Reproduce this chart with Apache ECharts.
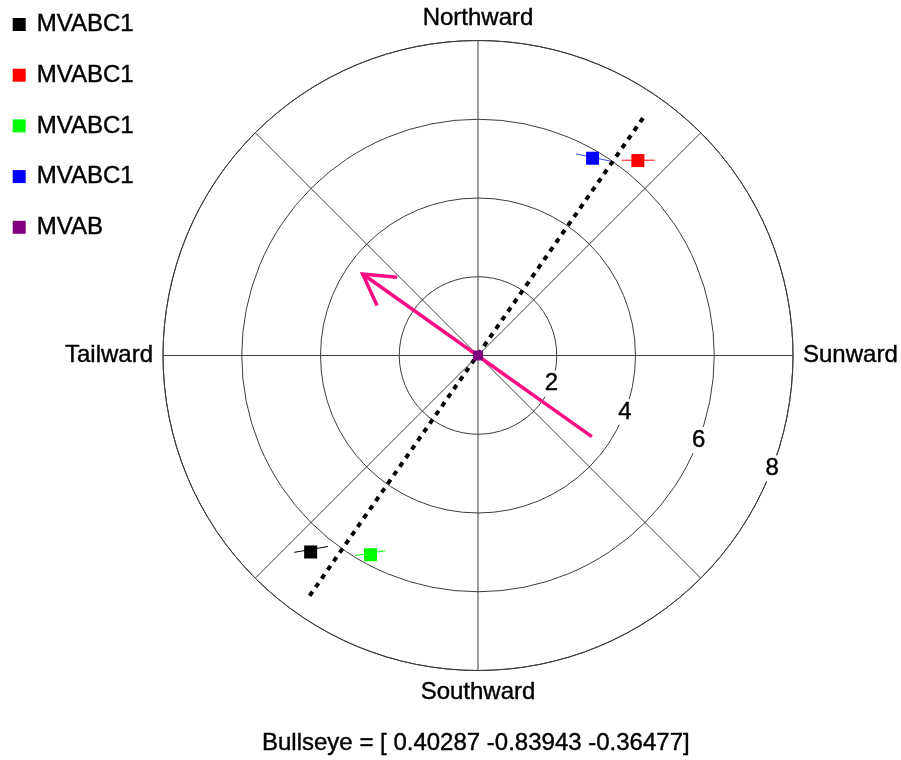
<!DOCTYPE html>
<html>
<head>
<meta charset="utf-8">
<script src="https://cdn.jsdelivr.net/npm/echarts@6/dist/echarts.min.js"></script>
<style>
  html, body { margin: 0; padding: 0; background: #ffffff; }
  #chart { width: 901px; height: 760px; }
</style>
</head>
<body>
<div id="chart"></div>
<script>
// Compass directions around the dial (degrees, counter-clockwise from Sunward)
const directionAngles = [0, 90, 180, 270];
const directionNames = ['Sunward', 'Northward', 'Tailward', 'Southward'];

// Radial rings and the angle at which their values are printed
const ringValues = [2, 4, 6, 8];
const ringLabelAngle = 339;

// Projected normals (x: Sunward, y: Northward)
const seriesNames = ['MVABC1', 'MVABC1', 'MVABC1', 'MVABC1', 'MVAB'];
const seriesColors = ['#000000', '#ff0000', '#00ff00', '#0000ff', '#800080'];
const pointX = [-4.25, 4.06, -2.73, 2.91, 0];
const pointY = [-4.99, 4.95, -5.06, 5.01, 0];

// Uncertainty bars, one segment per MVABC1 point
const errX1 = [-4.67, 3.65, -3.12, 2.49];
const errY1 = [-5.00, 4.96, -5.08, 5.12];
const errX2 = [-3.81, 4.49, -2.36, 3.35];
const errY2 = [-4.85, 4.96, -4.96, 4.94];
const errColors = ['#000000', '#ff0000', '#00ff00', '#3344ff'];

// Dotted boundary trace through the origin
const traceX = [4.19, -4.31];
const traceY = [6.03, -6.15];

// Arrow: tail then tip
const arrowX = [2.89, -2.93];
const arrowY = [-2.06, 2.07];

const titleText = 'Bullseye = [ 0.40287 -0.83943 -0.36477]';

const FONT = '"Liberation Sans", Arial, Helvetica, sans-serif';
const FONT_SIZE = 24;
const ARROW_COLOR = '#ff0a82';
const GRID_COLOR = '#3c3c3c';
// slight stroke around glyphs for a heavier text weight
const INK = { textBorderColor: '#000000', textBorderWidth: 0.4 };

function toPolar(x, y) {
  const r = Math.hypot(x, y);
  const a = (Math.atan2(y, x) * 180 / Math.PI + 360) % 360;
  return [r, a];
}

// Open arrow head: two strokes at +/-30 degrees from the shaft
function arrowHead(x0, y0, x1, y1, len, spreadDeg) {
  const back = Math.atan2(y0 - y1, x0 - x1);
  const s = spreadDeg * Math.PI / 180;
  return [
    toPolar(x1 + len * Math.cos(back + s), y1 + len * Math.sin(back + s)),
    toPolar(x1, y1),
    toPolar(x1 + len * Math.cos(back - s), y1 + len * Math.sin(back - s))
  ];
}

const series = [];

// Ring value labels (white box breaks the circle behind the number)
series.push({
  type: 'scatter',
  coordinateSystem: 'polar',
  symbolSize: 0,
  silent: true,
  z: 3,
  itemStyle: { opacity: 1 },
  data: ringValues.map(v => [v, ringLabelAngle]),
  label: Object.assign({
    show: true,
    position: 'inside',
    formatter: p => String(p.value[0]),
    color: '#000000',
    opacity: 1,
    fontFamily: FONT,
    fontSize: FONT_SIZE,
    backgroundColor: '#ffffff',
    padding: [1, 4]
  }, INK)
});

// Dotted trace
series.push({
  type: 'line',
  coordinateSystem: 'polar',
  symbol: 'none',
  silent: true,
  z: 4,
  data: traceX.map((x, i) => toPolar(x, traceY[i])),
  lineStyle: { color: '#000000', width: 4, type: [5, 5.5], cap: 'butt' }
});

// Arrow shaft and head
series.push({
  type: 'line',
  coordinateSystem: 'polar',
  symbol: 'none',
  silent: true,
  z: 5,
  data: arrowX.map((x, i) => toPolar(x, arrowY[i])),
  lineStyle: { color: ARROW_COLOR, width: 3.5 }
});
series.push({
  type: 'line',
  coordinateSystem: 'polar',
  symbol: 'none',
  silent: true,
  z: 5,
  data: arrowHead(arrowX[0], arrowY[0], arrowX[1], arrowY[1], 0.88, 30),
  lineStyle: { color: ARROW_COLOR, width: 3.5, join: 'miter' }
});

// Uncertainty bars
errX1.forEach((x, i) => {
  series.push({
    type: 'line',
    coordinateSystem: 'polar',
    symbol: 'none',
    silent: true,
    z: 6,
    data: [toPolar(x, errY1[i]), toPolar(errX2[i], errY2[i])],
    lineStyle: { color: errColors[i], width: 1 }
  });
});

// Point markers
const legendNames = seriesNames.map((n, i) => n + '#' + i);
seriesNames.forEach((n, i) => {
  series.push({
    name: legendNames[i],
    type: 'scatter',
    coordinateSystem: 'polar',
    symbol: 'rect',
    symbolSize: i === 4 ? 10 : 13,
    z: 7,
    itemStyle: { color: seriesColors[i], opacity: 1 },
    data: [toPolar(pointX[i], pointY[i])]
  });
});

const chart = echarts.init(document.getElementById('chart'), null, { renderer: 'canvas' });
chart.setOption({
  animation: false,
  backgroundColor: '#ffffff',
  textStyle: { fontFamily: FONT },
  title: {
    text: titleText,
    left: 262,
    top: 731,
    padding: 0,
    textStyle: Object.assign({ fontFamily: FONT, fontSize: FONT_SIZE, fontWeight: 'normal', color: '#000' }, INK)
  },
  legend: {
    orient: 'vertical',
    left: 12.7,
    top: 11.5,
    padding: 0,
    itemWidth: 13,
    itemHeight: 13,
    itemGap: 24.7,
    icon: 'rect',
    data: legendNames,
    formatter: name => name.split('#')[0],
    textStyle: Object.assign({ fontFamily: FONT, fontSize: FONT_SIZE, color: '#000', lineHeight: 26, padding: [0, 0, 0, 6] }, INK),
    selectedMode: false
  },
  polar: { center: [478, 355.5], radius: 315 },
  angleAxis: {
    type: 'value',
    min: 0,
    max: 360,
    interval: 45,
    startAngle: 0,
    clockwise: false,
    axisLine: { show: true, lineStyle: { color: GRID_COLOR, width: 1 } },
    axisTick: { show: false },
    splitLine: { show: true, lineStyle: { color: GRID_COLOR, width: 1 } },
    axisLabel: Object.assign({
      show: true,
      margin: 10,
      color: '#000',
      fontFamily: FONT,
      fontSize: FONT_SIZE,
      formatter: v => {
        const k = directionAngles.indexOf(v);
        return k >= 0 ? directionNames[k] : '';
      }
    }, INK)
  },
  radiusAxis: {
    type: 'value',
    min: 0,
    max: 8,
    interval: 2,
    axisLine: { show: false },
    axisTick: { show: false },
    axisLabel: { show: false },
    splitLine: { show: true, lineStyle: { color: GRID_COLOR, width: 1 } }
  },
  series: series
});
</script>
</body>
</html>
